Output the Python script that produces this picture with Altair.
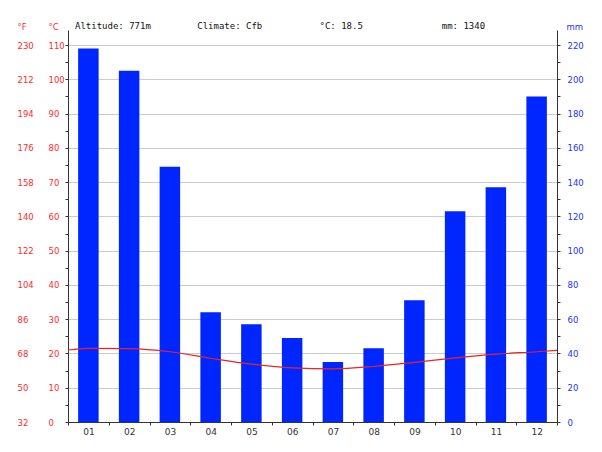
import json
import altair as alt
import pandas as pd

# ---- data ----
months = ["01", "02", "03", "04", "05", "06", "07", "08", "09", "10", "11", "12"]
precip_mm = [218, 205, 149, 64, 57, 49, 35, 43, 71, 123, 137, 190]
temp_c = [21.5, 21.4, 20.5, 18.6, 16.9, 15.8, 15.5, 16.2, 17.4, 18.7, 19.8, 20.5]
temp_edge_c = [21.0, 20.9]  # line values read at the left / right plot edges
header_texts = ["Altitude: 771m", "Climate: Cfb", "°C: 18.5", "mm: 1340"]
mm_ticks = list(range(0, 221, 10))
c_ticks = list(range(0, 111, 5))
c_major = list(range(0, 111, 10))
f_labels = ["32", "50", "68", "86", "104", "122", "140", "158", "176", "194", "212", "230"]

W, H = 489, 392
MM_MAX = 220 * H / 377.0
C_MAX = MM_MAX / 2.0

bars_df = pd.DataFrame({"m": list(range(1, 13)), "mm": precip_mm})
temp_df = pd.DataFrame({
    "m": [0.5] + list(range(1, 13)) + [12.5],
    "c": [temp_edge_c[0]] + temp_c + [temp_edge_c[1]],
})

x_vals = [0.5 + 0.5 * i for i in range(25)]
x_axis = alt.Axis(
    values=x_vals,
    labelExpr=f"datum.value % 1 === 0 ? {json.dumps(months)}[datum.value - 1] : ''",
    tickOpacity={"condition": {"test": "datum.value % 1 !== 0", "value": 1}, "value": 0},
    grid=False,
    title=None,
    tickSize=3,
    labelPadding=2,
    labelColor="#333333",
    labelFontSize=9,
    zindex=1,
)
x_enc = alt.X("m:Q", scale=alt.Scale(domain=[0.5, 12.5], nice=False, zero=False, padding=0), axis=x_axis)

bars = alt.Chart(bars_df).mark_bar(size=20.5, color="#0026ff").encode(
    x=x_enc,
    y=alt.Y(
        "mm:Q",
        scale=alt.Scale(domain=[0, MM_MAX], nice=False),
        axis=alt.Axis(
            orient="right",
            values=mm_ticks,
            labelExpr="datum.value % 20 === 0 ? datum.label : ''",
            grid=False,
            tickSize=3,
            labelPadding=7,
            labelColor="#1a33ff",
            title="mm",
            titleColor="#1a33ff",
            titleAngle=0,
            titleX=9,
            titleY=-1,
            titleAlign="left",
            titleBaseline="alphabetic",
        ),
    ),
)

line = alt.Chart(temp_df).mark_line(color="#ee2222", strokeWidth=1.2, interpolate="monotone").encode(
    x=x_enc,
    y=alt.Y(
        "c:Q",
        scale=alt.Scale(domain=[0, C_MAX], nice=False),
        axis=alt.Axis(
            orient="left",
            values=c_ticks,
            labelExpr="datum.value % 10 === 0 ? datum.label : ''",
            grid=False,
            tickSize=3,
            labelPadding=17,
            labelAlign="left",
            labelColor="#ff2a2a",
            title="°C",
            titleColor="#ff2a2a",
            titleAngle=0,
            titleX=-20,
            titleY=-1,
            titleAlign="left",
            titleBaseline="alphabetic",
        ),
    ),
)

f_axis_layer = alt.Chart(temp_df).mark_line(opacity=0).encode(
    x=x_enc,
    y=alt.Y(
        "c:Q",
        scale=alt.Scale(domain=[0, C_MAX], nice=False),
        axis=alt.Axis(
            orient="left",
            values=c_major,
            labelExpr=f"{json.dumps(f_labels)}[round(datum.value / 10)]",
            grid=True,
            gridColor="#cccccc",
            gridWidth=1,
            ticks=False,
            domain=False,
            labelPadding=51,
            labelAlign="left",
            labelColor="#ff2a2a",
            title="°F",
            titleColor="#ff2a2a",
            titleAngle=0,
            titleX=-51,
            titleY=-1,
            titleAlign="left",
            titleBaseline="alphabetic",
        ),
    ),
)

texts = []
for i, t in enumerate(header_texts):
    texts.append(
        alt.Chart(pd.DataFrame({"t": [t]})).mark_text(
            align="left", baseline="alphabetic", font="DejaVu Sans Mono", fontSize=9, color="#111111"
        ).encode(text="t:N", x=alt.value(7 + i * W / 4.0), y=alt.value(-1))
    )

chart = alt.layer(f_axis_layer, bars, line, *texts).resolve_scale(y="independent").properties(
    width=W,
    height=H,
    autosize=alt.AutoSizeParams(type="none"),
    padding={"left": 60, "top": 22, "right": 37, "bottom": 20},
).configure_view(stroke=None).configure_axis(
    labelFont="DejaVu Sans",
    labelFontSize=8.5,
    titleFont="DejaVu Sans",
    titleFontSize=8.5,
    titleFontWeight="normal",
    domainColor="#333333",
    tickColor="#333333",
)

chart.save("out.html", embed_options={"renderer": "svg", "actions": False})
